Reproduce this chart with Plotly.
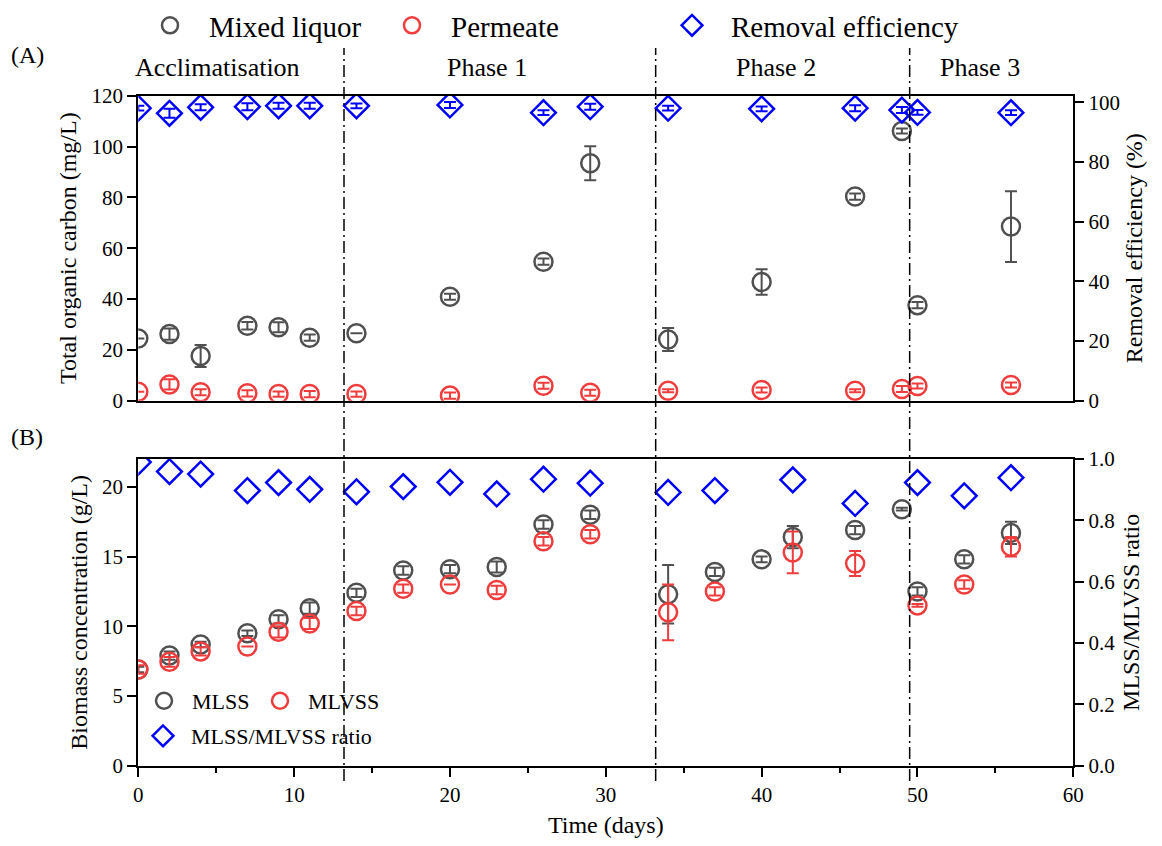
import plotly.graph_objects as go

# ---------------- data ----------------
# Panel A: total organic carbon (mg/L) and removal efficiency (%)
days_ml = [0, 2, 4, 7, 9, 11, 14, 20, 26, 29, 34, 40, 46, 49, 50, 56]
toc_ml = [24.5, 26.2, 17.6, 29.5, 28.9, 24.8, 26.5, 40.9, 54.7, 93.4, 24.1, 46.7, 80.3, 106.1, 37.6, 68.5]
toc_ml_err = [0.0, 2.2, 4.3, 1.5, 2.0, 1.2, 0.0, 1.2, 1.2, 6.7, 4.5, 5.0, 1.2, 1.0, 1.2, 13.9]

days_perm = [0, 2, 4, 7, 9, 11, 14, 20, 26, 29, 34, 40, 46, 49, 50, 56]
toc_perm = [3.5, 6.4, 3.3, 2.9, 2.6, 2.6, 2.6, 2.0, 5.9, 3.1, 3.9, 4.2, 3.9, 4.6, 5.8, 6.2]
toc_perm_err = [0.0, 2.0, 1.2, 1.2, 1.0, 1.2, 1.0, 1.2, 1.2, 1.2, 0.6, 1.0, 0.6, 1.2, 1.0, 1.0]

days_rem = [0, 2, 4, 7, 9, 11, 14, 20, 26, 29, 34, 40, 46, 49, 50, 56]
removal = [98.0, 96.3, 98.3, 98.5, 98.8, 98.8, 98.8, 99.1, 96.5, 98.5, 98.0, 97.8, 98.0, 97.4, 96.6, 96.5]
removal_err = [0.8, 1.5, 1.0, 1.2, 1.0, 1.0, 0.8, 1.0, 0.8, 1.0, 0.8, 0.8, 1.0, 1.0, 0.8, 0.8]

# Panel B: biomass concentration (g/L) and MLSS/MLVSS ratio
days_mlss = [0, 2, 4, 7, 9, 11, 14, 17, 20, 23, 26, 29, 34, 37, 40, 42, 46, 49, 50, 53, 56]
mlss = [6.9, 7.9, 8.7, 9.5, 10.5, 11.3, 12.4, 14.0, 14.1, 14.25, 17.3, 18.0, 12.3, 13.9, 14.8, 16.4, 16.9, 18.4, 12.5, 14.8, 16.7]
mlss_err = [0.2, 0.3, 0.2, 0.2, 0.3, 0.4, 0.3, 0.3, 0.3, 0.4, 0.3, 0.3, 2.1, 0.3, 0.2, 0.8, 0.3, 0.1, 0.3, 0.3, 0.8]

days_mlvss = [0, 2, 4, 7, 9, 11, 14, 17, 20, 23, 26, 29, 34, 37, 42, 46, 50, 53, 56]
mlvss = [6.9, 7.45, 8.2, 8.55, 9.6, 10.2, 11.1, 12.7, 13.0, 12.6, 16.1, 16.6, 11.0, 12.5, 15.3, 14.5, 11.5, 13.0, 15.7]
mlvss_err = [0.3, 0.35, 0.3, 0.0, 0.4, 0.4, 0.3, 0.3, 0.0, 0.3, 0.3, 0.3, 2.0, 0.3, 1.5, 0.9, 0.1, 0.3, 0.7]

days_ratio = [0, 2, 4, 7, 9, 11, 14, 17, 20, 23, 26, 29, 34, 37, 42, 46, 50, 53, 56]
ratio = [0.99, 0.959, 0.951, 0.897, 0.923, 0.901, 0.893, 0.910, 0.924, 0.886, 0.934, 0.921, 0.891, 0.897, 0.932, 0.855, 0.923, 0.880, 0.939]

phase_bounds = [13.2, 33.2, 49.5]
phase_labels = ["Acclimatisation", "Phase 1", "Phase 2", "Phase 3"]
phase_label_x = [5.1, 22.4, 40.9, 54.0]

# ---------------- styling ----------------
W, H = 1162, 846
FONT = "Liberation Serif"
GREY = "#505050"
RED = "#f03c3c"
BLUE = "#0000ff"


def px(x):
    return x / W


def py(y):
    return 1 - y / H


x_dom = [px(138.3), px(1073.3)]
yA_dom = [py(400.7), py(95.7)]
yB_dom = [py(765.7), py(459.0)]

fig = go.Figure()


def circ(color):
    return dict(symbol="circle-open", size=18, color=color, line=dict(color=color, width=2.5))


def dia(color):
    return dict(symbol="diamond-open", size=19, color=color, line=dict(color=color, width=2.5))


def err(arr, color):
    return dict(type="data", array=arr, visible=True, color=color, thickness=2, width=6)


fig.add_trace(go.Scatter(x=days_ml, y=toc_ml, mode="markers", name="Mixed liquor",
                         marker=circ(GREY), error_y=err(toc_ml_err, GREY),
                         xaxis="x", yaxis="y", legend="legend", showlegend=True))
fig.add_trace(go.Scatter(x=days_perm, y=toc_perm, mode="markers", name="Permeate",
                         marker=circ(RED), error_y=err(toc_perm_err, RED),
                         xaxis="x", yaxis="y", legend="legend2", showlegend=True))
fig.add_trace(go.Scatter(x=days_rem, y=removal, mode="markers", name="Removal efficiency",
                         marker=dia(BLUE), error_y=err(removal_err, BLUE),
                         xaxis="x", yaxis="y2", legend="legend3", showlegend=True))

fig.add_trace(go.Scatter(x=days_mlss, y=mlss, mode="markers", name="MLSS",
                         marker=circ(GREY), error_y=err(mlss_err, GREY),
                         xaxis="x2", yaxis="y3", legend="legend4", showlegend=True))
fig.add_trace(go.Scatter(x=days_mlvss, y=mlvss, mode="markers", name="MLVSS",
                         marker=circ(RED), error_y=err(mlvss_err, RED),
                         xaxis="x2", yaxis="y3", legend="legend5", showlegend=True))
fig.add_trace(go.Scatter(x=days_ratio, y=ratio, mode="markers", name="MLSS/MLVSS ratio",
                         marker=dia(BLUE),
                         xaxis="x2", yaxis="y4", legend="legend6", showlegend=True))

axis_common = dict(showline=True, linecolor="black", linewidth=2, showgrid=False, zeroline=False,
                   ticks="outside", ticklen=9, tickwidth=2, tickcolor="black",
                   tickfont=dict(family=FONT, size=21, color="black"), automargin=False)
title_font = dict(family=FONT, size=24, color="black")

fig.update_layout(
    width=W, height=H,
    margin=dict(l=0, r=0, t=0, b=0),
    paper_bgcolor="white", plot_bgcolor="white",
    font=dict(family=FONT, color="black"),
    showlegend=True,
    xaxis=dict(domain=x_dom, range=[0, 60], anchor="y", showline=True, linecolor="black", linewidth=2,
               mirror=True, showticklabels=False, ticks="", showgrid=False, zeroline=False, automargin=False),
    yaxis=dict(axis_common, domain=yA_dom, range=[0, 120], anchor="x", dtick=20,
               title=dict(text="Total organic carbon (mg/L)", font=title_font, standoff=8)),
    yaxis2=dict(axis_common, overlaying="y", side="right", range=[0, 102.2], anchor="x", dtick=20,
                title=dict(text="Removal efficiency (%)", font=title_font, standoff=6)),
    xaxis2=dict(axis_common, domain=x_dom, range=[0, 60], anchor="y3", dtick=10, mirror=True,
                minor=dict(dtick=5, ticks="outside", ticklen=5, tickwidth=2, tickcolor="black"),
                title=dict(text="Time (days)", font=title_font, standoff=10)),
    yaxis3=dict(axis_common, domain=yB_dom, range=[0, 22], anchor="x2", dtick=5,
                title=dict(text="Biomass concentration (g/L)", font=title_font, standoff=8)),
    yaxis4=dict(axis_common, overlaying="y3", side="right", range=[0, 1.0], anchor="x2", dtick=0.2,
                tickformat=".1f",
                title=dict(text="MLSS/MLVSS ratio", font=title_font, standoff=8)),
)

# legends, each placed individually (top legends anchored at the page top so nothing overflows)
leg_top = dict(font=dict(family=FONT, size=29, color="black"), bgcolor="rgba(0,0,0,0)",
               xanchor="left", yanchor="top", y=1.0, itemwidth=68, orientation="h", visible=True)
leg_b = dict(font=dict(family=FONT, size=22, color="black"), bgcolor="rgba(0,0,0,0)",
             xanchor="left", yanchor="middle", itemwidth=46, orientation="h", visible=True)
fig.update_layout(
    legend=dict(leg_top, x=px(131)),
    legend2=dict(leg_top, x=px(373)),
    legend3=dict(leg_top, x=px(653)),
    legend4=dict(leg_b, x=px(136), y=py(701)),
    legend5=dict(leg_b, x=px(252), y=py(701)),
    legend6=dict(leg_b, x=px(135), y=py(736)),
)

# phase separators (dash-dot), spanning both panels
for xb in phase_bounds:
    fig.add_shape(type="line", xref="x2", yref="paper", x0=xb, x1=xb, y0=py(781), y1=py(48),
                  line=dict(color="black", width=1.5, dash="12px,4px,2px,4px"))

# phase labels
for lab, xl in zip(phase_labels, phase_label_x):
    fig.add_annotation(text=lab, xref="x2", yref="paper", x=xl, y=py(67), showarrow=False,
                       xanchor="center", yanchor="middle", font=dict(family=FONT, size=26, color="black"))

fig.add_annotation(text="(A)", xref="paper", yref="paper", x=px(27), y=py(55), showarrow=False,
                   xanchor="center", yanchor="middle", font=dict(family=FONT, size=24, color="black"))
fig.add_annotation(text="(B)", xref="paper", yref="paper", x=px(27), y=py(437), showarrow=False,
                   xanchor="center", yanchor="middle", font=dict(family=FONT, size=24, color="black"))

fig.write_html("out.html")
